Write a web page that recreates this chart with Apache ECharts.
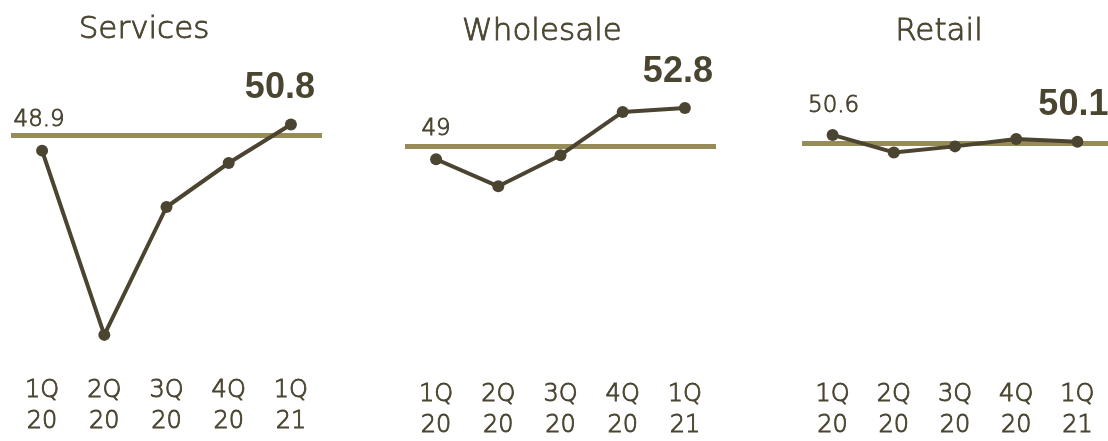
<!DOCTYPE html>
<html>
<head>
<meta charset="utf-8">
<script src="https://cdn.jsdelivr.net/npm/echarts@6/dist/echarts.min.js"></script>
<style>
html,body{margin:0;padding:0;background:#fff;}
#c{width:1108px;height:441px;}
</style>
</head>
<body>
<div id="c"></div>
<script>
const categories = ['1Q\n20', '2Q\n20', '3Q\n20', '4Q\n20', '1Q\n21'];
const panelTitles = ['Services', 'Wholesale', 'Retail'];
const servicesValues = [48.9, 35.5, 44.8, 48.0, 50.8];
const wholesaleValues = [49.0, 47.0, 49.3, 52.5, 52.8];
const retailValues = [50.6, 49.3, 49.75, 50.3, 50.1];
const referenceLevel = 50;

const seriesValues = [servicesValues, wholesaleValues, retailValues];

const TEXT = '#4a4530';
const LINE = '#4a4430';
const REF = '#978c59';
const FONT = '"DejaVu Sans", Lato, sans-serif';
const FW = 200;
const thin = {textBorderColor: TEXT, textBorderWidth: 0.9};

// layout per panel
const layout = [
  {left: 11, top: 80.5, titleX: 139, titleY: 25, firstOff: [-3, -31], lastOff: [-11, -36], labelMargin: 20},
  {left: 405, top: 91.7, titleX: 537, titleY: 27, firstOff: [0, -30], lastOff: [-7, -36], labelMargin: 17},
  {left: 802, top: 89, titleX: 934, titleY: 27, firstOff: [1, -29], lastOff: [-4, -37], labelMargin: 20}
];
const GRID_W = 311;
const GRID_H = 275;
const Y_MIN = 34, Y_MAX = 54;

const chart = echarts.init(document.getElementById('c'));
const grids = [], xAxes = [], yAxes = [], series = [], titles = [];

layout.forEach((L, i) => {
  grids.push({left: L.left, top: L.top, width: GRID_W, height: GRID_H, containLabel: false});
  xAxes.push({
    type: 'category', gridIndex: i, data: categories, boundaryGap: true,
    axisLine: {show: false}, axisTick: {show: false}, splitLine: {show: false},
    axisLabel: Object.assign({color: TEXT, fontFamily: FONT, fontWeight: FW, fontSize: 24, lineHeight: 31, margin: L.labelMargin, interval: 0}, thin)
  });
  yAxes.push({
    type: 'value', gridIndex: i, min: Y_MIN, max: Y_MAX,
    show: false, splitLine: {show: false}
  });
  titles.push({
    text: panelTitles[i], left: L.titleX, top: L.titleY, textAlign: 'center', textVerticalAlign: 'middle',
    textStyle: Object.assign({color: TEXT, fontFamily: FONT, fontSize: 31, fontWeight: FW}, thin)
  });
  const vals = seriesValues[i];
  const data = vals.map((v, j) => {
    const item = {value: v};
    if (j === 0) {
      item.label = Object.assign({show: true, position: 'inside', offset: L.firstOff, align: 'center', verticalAlign: 'middle',
        formatter: '{c}', color: TEXT, fontFamily: FONT, fontSize: 23, fontWeight: FW}, thin);
    } else if (j === vals.length - 1) {
      item.label = {show: true, position: 'inside', offset: L.lastOff, align: 'center', verticalAlign: 'middle',
        formatter: (p) => p.value.toFixed(1), color: TEXT, fontFamily: '"Liberation Sans", Arial, sans-serif', fontSize: 36, fontWeight: 'bold',
        textBorderWidth: 0};
    }
    return item;
  });
  series.push({
    type: 'line', xAxisIndex: i, yAxisIndex: i, data: data,
    symbol: 'circle', symbolSize: 12, z: 3,
    lineStyle: {color: LINE, width: 4},
    itemStyle: {color: LINE},
    label: {show: false},
    markLine: {
      silent: true, symbol: 'none', z: 2,
      lineStyle: {color: REF, width: 5, type: 'solid'},
      label: {show: false},
      data: [{yAxis: referenceLevel}]
    }
  });
});

chart.setOption({
  animation: false,
  title: titles,
  grid: grids,
  xAxis: xAxes,
  yAxis: yAxes,
  series: series
});
</script>
</body>
</html>
